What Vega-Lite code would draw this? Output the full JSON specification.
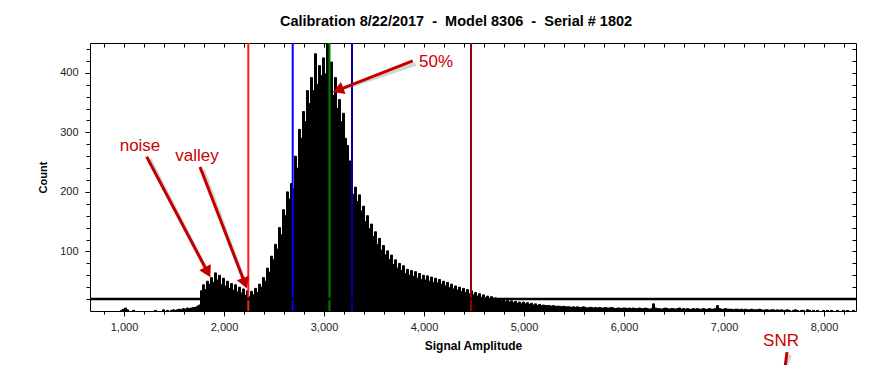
{
"$schema": "https://vega.github.io/schema/vega-lite/v6.json",
"width": 766, "height": 268,
"autosize": "none",
"padding": {"left": 90, "top": 43, "right": 40, "bottom": 54},
"background": "white",
"title": {"text": "Calibration 8/22/2017 \u00a0-\u00a0 Model 8306 \u00a0-\u00a0 Serial # 1802", "font": "Liberation Sans", "fontSize": 14.5, "fontWeight": "bold", "color": "#000", "anchor": "middle", "dx": -17, "offset": 13},
"config": {
  "view": {"stroke": "#000", "strokeWidth": 1},
  "axis": {"labelFont": "Liberation Sans", "titleFont": "Liberation Sans", "labelColor": "#222", "titleColor": "#000", "domain": false, "grid": false, "tickColor": "#000", "tickWidth": 1}
},
"resolve": {"axis": {"x": "independent", "y": "independent"}},
"layer": [
{
  "data": {"values": [
{"a":960,"n":1},{"a":980,"n":3},{"a":1000,"n":5},{"a":1020,"n":2},{"a":1080,"n":1},{"a":1300,"n":1},{"a":1380,"n":2},{"a":1420,"n":1},{"a":1460,"n":1},{"a":1480,"n":2},{"a":1500,"n":1},{"a":1520,"n":2},{"a":1540,"n":3},{"a":1560,"n":2},{"a":1580,"n":4},{"a":1600,"n":3},{"a":1620,"n":5},{"a":1640,"n":4},{"a":1660,"n":5},{"a":1680,"n":6},{"a":1700,"n":6},{"a":1720,"n":8},{"a":1740,"n":10},
{"a":1760,"n":34},{"a":1780,"n":44},{"a":1800,"n":36},{"a":1820,"n":50},{"a":1840,"n":45},{"a":1860,"n":56},{"a":1880,"n":48},{"a":1900,"n":64},{"a":1920,"n":52},{"a":1940,"n":60},{"a":1960,"n":44},{"a":1980,"n":55},{"a":2000,"n":42},{"a":2020,"n":50},{"a":2040,"n":38},{"a":2060,"n":46},{"a":2080,"n":35},{"a":2100,"n":44},{"a":2120,"n":32},{"a":2140,"n":40},{"a":2160,"n":30},{"a":2180,"n":37},{"a":2200,"n":26},{"a":2220,"n":34},{"a":2240,"n":24},{"a":2260,"n":33},{"a":2280,"n":27},{"a":2300,"n":38},{"a":2320,"n":31},{"a":2340,"n":45},{"a":2360,"n":40},{"a":2380,"n":56},{"a":2400,"n":50},{"a":2420,"n":72},{"a":2440,"n":65},{"a":2460,"n":92},{"a":2480,"n":86},{"a":2500,"n":112},{"a":2520,"n":104},{"a":2540,"n":140},{"a":2560,"n":128},{"a":2580,"n":170},{"a":2600,"n":160},{"a":2620,"n":200},{"a":2640,"n":188},{"a":2660,"n":214},{"a":2680,"n":205},{"a":2700,"n":260},{"a":2720,"n":240},{"a":2740,"n":305},{"a":2760,"n":290},{"a":2780,"n":335},{"a":2800,"n":318},{"a":2820,"n":370},{"a":2840,"n":348},{"a":2860,"n":392},{"a":2880,"n":370},{"a":2900,"n":432},{"a":2920,"n":380},{"a":2940,"n":412},{"a":2960,"n":395},{"a":2980,"n":425},{"a":3000,"n":398},{"a":3020,"n":448},{"a":3040,"n":385},{"a":3060,"n":418},{"a":3080,"n":362},{"a":3100,"n":392},{"a":3120,"n":340},{"a":3140,"n":355},{"a":3160,"n":318},{"a":3180,"n":332},{"a":3200,"n":290},{"a":3220,"n":278},{"a":3240,"n":252},{"a":3260,"n":232},{"a":3280,"n":196},{"a":3300,"n":208},{"a":3320,"n":184},{"a":3340,"n":195},{"a":3360,"n":168},{"a":3380,"n":176},{"a":3400,"n":150},{"a":3420,"n":160},{"a":3440,"n":138},{"a":3460,"n":146},{"a":3480,"n":125},{"a":3500,"n":133},{"a":3520,"n":112},{"a":3540,"n":122},{"a":3560,"n":102},{"a":3580,"n":110},{"a":3600,"n":94},{"a":3620,"n":101},{"a":3640,"n":86},{"a":3660,"n":94},{"a":3680,"n":78},{"a":3700,"n":86},{"a":3720,"n":72},{"a":3740,"n":80},{"a":3760,"n":68},{"a":3780,"n":76},{"a":3800,"n":63},{"a":3820,"n":70},{"a":3840,"n":60},{"a":3860,"n":68},{"a":3880,"n":58},{"a":3900,"n":66},{"a":3920,"n":55},{"a":3940,"n":63},{"a":3960,"n":53},{"a":3980,"n":60},{"a":4000,"n":52},{"a":4020,"n":59},{"a":4040,"n":50},{"a":4060,"n":57},{"a":4080,"n":48},{"a":4100,"n":55},{"a":4120,"n":47},{"a":4140,"n":53},{"a":4160,"n":45},{"a":4180,"n":50},{"a":4200,"n":42},{"a":4220,"n":48},{"a":4240,"n":39},{"a":4260,"n":45},{"a":4280,"n":37},{"a":4300,"n":42},{"a":4320,"n":35},{"a":4340,"n":40},{"a":4360,"n":33},{"a":4380,"n":38},{"a":4400,"n":31},{"a":4420,"n":36},{"a":4440,"n":29},{"a":4460,"n":34},{"a":4480,"n":27},{"a":4500,"n":31},{"a":4520,"n":25},{"a":4540,"n":29},{"a":4560,"n":23},{"a":4580,"n":27},{"a":4600,"n":22},{"a":4620,"n":25},{"a":4640,"n":20},{"a":4660,"n":24},{"a":4680,"n":19},{"a":4700,"n":22},{"a":4720,"n":18},{"a":4740,"n":21},{"a":4760,"n":17},{"a":4780,"n":20},{"a":4800,"n":16},{"a":4820,"n":18},{"a":4840,"n":15},{"a":4860,"n":17},{"a":4880,"n":14},{"a":4900,"n":16},{"a":4920,"n":13},{"a":4940,"n":15},{"a":4960,"n":12},{"a":4980,"n":15},{"a":5000,"n":12},{"a":5020,"n":14},{"a":5040,"n":11},{"a":5060,"n":13},{"a":5080,"n":10},{"a":5100,"n":12},{"a":5120,"n":9},{"a":5140,"n":11},{"a":5160,"n":9},{"a":5180,"n":10},{"a":5200,"n":9},{"a":5220,"n":9},{"a":5240,"n":9},{"a":5260,"n":8},{"a":5280,"n":9},{"a":5300,"n":8},{"a":5320,"n":8},{"a":5340,"n":8},{"a":5360,"n":7},{"a":5380,"n":8},{"a":5400,"n":7},{"a":5420,"n":7},{"a":5440,"n":7},{"a":5460,"n":6},{"a":5480,"n":7},{"a":5500,"n":6},{"a":5520,"n":7},{"a":5540,"n":6},{"a":5560,"n":6},{"a":5580,"n":7},{"a":5600,"n":6},{"a":5620,"n":5},{"a":5640,"n":6},{"a":5660,"n":6},{"a":5680,"n":5},{"a":5700,"n":6},{"a":5720,"n":5},{"a":5740,"n":6},{"a":5760,"n":5},{"a":5780,"n":5},{"a":5800,"n":6},{"a":5820,"n":5},{"a":5840,"n":5},{"a":5860,"n":6},{"a":5880,"n":5},{"a":5900,"n":4},{"a":5920,"n":5},{"a":5940,"n":5},{"a":5960,"n":4},{"a":5980,"n":5},{"a":6000,"n":5},{"a":6020,"n":4},{"a":6040,"n":5},{"a":6060,"n":4},{"a":6080,"n":5},{"a":6100,"n":4},{"a":6120,"n":4},{"a":6140,"n":5},{"a":6160,"n":4},{"a":6180,"n":4},{"a":6200,"n":5},{"a":6220,"n":4},{"a":6240,"n":3},{"a":6260,"n":4},{"a":6280,"n":12},{"a":6300,"n":5},{"a":6320,"n":4},{"a":6340,"n":4},{"a":6360,"n":3},{"a":6380,"n":4},{"a":6400,"n":5},{"a":6420,"n":4},{"a":6440,"n":3},{"a":6460,"n":4},{"a":6480,"n":4},{"a":6500,"n":3},{"a":6520,"n":4},{"a":6540,"n":5},{"a":6560,"n":3},{"a":6580,"n":4},{"a":6600,"n":3},{"a":6620,"n":4},{"a":6640,"n":3},{"a":6660,"n":3},{"a":6680,"n":4},{"a":6700,"n":3},{"a":6720,"n":4},{"a":6740,"n":3},{"a":6760,"n":3},{"a":6780,"n":4},{"a":6800,"n":3},{"a":6820,"n":3},{"a":6840,"n":4},{"a":6860,"n":3},{"a":6880,"n":3},{"a":6900,"n":4},{"a":6920,"n":9},{"a":6940,"n":4},{"a":6960,"n":3},{"a":6980,"n":3},{"a":7000,"n":4},{"a":7020,"n":3},{"a":7040,"n":3},{"a":7060,"n":3},{"a":7080,"n":2},{"a":7100,"n":3},{"a":7120,"n":3},{"a":7140,"n":2},{"a":7160,"n":3},{"a":7180,"n":2},{"a":7200,"n":3},{"a":7220,"n":2},{"a":7240,"n":2},{"a":7260,"n":3},{"a":7280,"n":2},{"a":7300,"n":2},{"a":7320,"n":2},{"a":7340,"n":3},{"a":7360,"n":2},{"a":7380,"n":1},{"a":7400,"n":2},{"a":7420,"n":2},{"a":7440,"n":1},{"a":7460,"n":2},{"a":7480,"n":2},{"a":7500,"n":1},{"a":7520,"n":2},{"a":7540,"n":1},{"a":7560,"n":2},{"a":7580,"n":1},{"a":7600,"n":1},{"a":7620,"n":2},{"a":7640,"n":1},{"a":7680,"n":1},{"a":7700,"n":2},{"a":7720,"n":1},{"a":7760,"n":1},{"a":7780,"n":1},{"a":7820,"n":2},{"a":7840,"n":1},{"a":7880,"n":1},{"a":7920,"n":1},{"a":7980,"n":1},{"a":8020,"n":1},{"a":8060,"n":1},{"a":8120,"n":1},{"a":8180,"n":1},{"a":8220,"n":1},{"a":8280,"n":1}
  ]},
  "mark": {"type": "bar", "color": "#000", "stroke": "#000", "strokeWidth": 1, "binSpacing": 0},
  "encoding": {
    "x": {"field": "a", "type": "quantitative", "bin": {"binned": true, "step": 20},
      "scale": {"domain": [660, 8320], "nice": false},
      "axis": {"orient": "bottom", "title": "Signal Amplitude", "titleFontSize": 12, "titleFontWeight": "bold", "titlePadding": 8,
        "values": [800,1000,1200,1400,1600,1800,2000,2200,2400,2600,2800,3000,3200,3400,3600,3800,4000,4200,4400,4600,4800,5000,5200,5400,5600,5800,6000,6200,6400,6600,6800,7000,7200,7400,7600,7800,8000,8200],
        "labelExpr": "datum.value % 1000 === 0 ? format(datum.value, ',') : ''",
        "labelFontSize": 11, "labelPadding": 5, "labelFlush": false, "labelOverlap": false,
        "tickSize": {"condition": {"test": "datum.value % 1000 === 0", "value": 5}, "value": 3}}},
    "y": {"field": "n", "type": "quantitative",
      "scale": {"domain": [0, 450], "nice": false},
      "axis": {"orient": "left", "title": "Count", "titleFontSize": 11, "titleFontWeight": "bold", "titlePadding": 11,
        "values": [20,40,60,80,100,120,140,160,180,200,220,240,260,280,300,320,340,360,380,400,420,440],
        "labelExpr": "datum.value % 100 === 0 ? datum.value : ''",
        "labelFontSize": 11, "labelPadding": 7, "labelOverlap": false,
        "tickSize": {"condition": {"test": "datum.value % 100 === 0", "value": 5}, "value": 4}}}
  }
},
{
  "data": {"values": [{"v": 2243, "k": "valley"}, {"v": 2687, "k": "low"}, {"v": 3055, "k": "median"}, {"v": 3280, "k": "high"}, {"v": 4470, "k": "snr"}]},
  "mark": {"type": "rule", "strokeWidth": 2},
  "encoding": {
    "x": {"field": "v", "type": "quantitative", "scale": {"domain": [660, 8320], "nice": false},
      "axis": {"orient": "top", "title": null, "labels": false, "tickSize": -4,
        "values": [800,1000,1200,1400,1600,1800,2000,2200,2400,2600,2800,3000,3200,3400,3600,3800,4000,4200,4400,4600,4800,5000,5200,5400,5600,5800,6000,6200,6400,6600,6800,7000,7200,7400,7600,7800,8000,8200]}},
    "color": {"field": "k", "type": "nominal", "legend": null,
      "scale": {"domain": ["valley", "low", "median", "high", "snr"], "range": ["#FF1A1A", "#0000FF", "#008000", "#0000A0", "#9A0000"]}}
  }
},
{
  "data": {"values": [{"c": 20}]},
  "mark": {"type": "rule", "strokeWidth": 2.5, "color": "#000"},
  "encoding": {
    "y": {"field": "c", "type": "quantitative", "scale": {"domain": [0, 450], "nice": false},
      "axis": {"orient": "right", "title": null, "labels": false, "tickSize": -4,
        "values": [20,40,60,80,100,120,140,160,180,200,220,240,260,280,300,320,340,360,380,400,420,440]}}
  }
},
{
  "data": {"values": [{"x0": 1227, "y0": 259, "x1": 1837, "y1": 65}, {"x0": 1760, "y0": 242, "x1": 2209, "y1": 46.5}, {"x0": 3887, "y0": 420, "x1": 3140, "y1": 371}, {"x0": 7630, "y0": -69, "x1": 7610, "y1": -95}]},
  "mark": {"type": "rule", "stroke": "#888", "strokeWidth": 4, "opacity": 0.35, "xOffset": 3, "yOffset": 3},
  "encoding": {
    "x": {"field": "x0", "type": "quantitative", "axis": null},
    "y": {"field": "y0", "type": "quantitative", "axis": null},
    "x2": {"field": "x1"}, "y2": {"field": "y1"}
  }
},
{
  "data": {"values": [{"x0": 1227, "y0": 259, "x1": 1837, "y1": 65}, {"x0": 1760, "y0": 242, "x1": 2209, "y1": 46.5}, {"x0": 3887, "y0": 420, "x1": 3140, "y1": 371}, {"x0": 7630, "y0": -69, "x1": 7610, "y1": -95}]},
  "mark": {"type": "rule", "stroke": "#C00000", "strokeWidth": 3},
  "encoding": {
    "x": {"field": "x0", "type": "quantitative", "axis": null},
    "y": {"field": "y0", "type": "quantitative", "axis": null},
    "x2": {"field": "x1"}, "y2": {"field": "y1"}
  }
},
{
  "data": {"values": [{"x": 1837, "y": 65}]},
  "mark": {"type": "point", "shape": "triangle-up", "filled": true, "size": 170, "angle": 152, "color": "#C00000", "opacity": 1},
  "encoding": {"x": {"field": "x", "type": "quantitative", "axis": null}, "y": {"field": "y", "type": "quantitative", "axis": null}}
},
{
  "data": {"values": [{"x": 2209, "y": 46.5}]},
  "mark": {"type": "point", "shape": "triangle-up", "filled": true, "size": 170, "angle": 159, "color": "#C00000", "opacity": 1},
  "encoding": {"x": {"field": "x", "type": "quantitative", "axis": null}, "y": {"field": "y", "type": "quantitative", "axis": null}}
},
{
  "data": {"values": [{"x": 3140, "y": 371}]},
  "mark": {"type": "point", "shape": "triangle-up", "filled": true, "size": 170, "angle": 249, "color": "#C00000", "opacity": 1},
  "encoding": {"x": {"field": "x", "type": "quantitative", "axis": null}, "y": {"field": "y", "type": "quantitative", "axis": null}}
},
{
  "data": {"values": [{"t": "noise", "x": 1160, "y": 277}, {"t": "valley", "x": 1730, "y": 260}, {"t": "50%", "x": 4120, "y": 418}, {"t": "SNR", "x": 7570, "y": -50}]},
  "mark": {"type": "text", "font": "Liberation Sans", "fontSize": 17, "color": "#CC0000", "align": "center", "baseline": "middle"},
  "encoding": {
    "x": {"field": "x", "type": "quantitative", "axis": null},
    "y": {"field": "y", "type": "quantitative", "axis": null},
    "text": {"field": "t"}
  }
}
]
}
